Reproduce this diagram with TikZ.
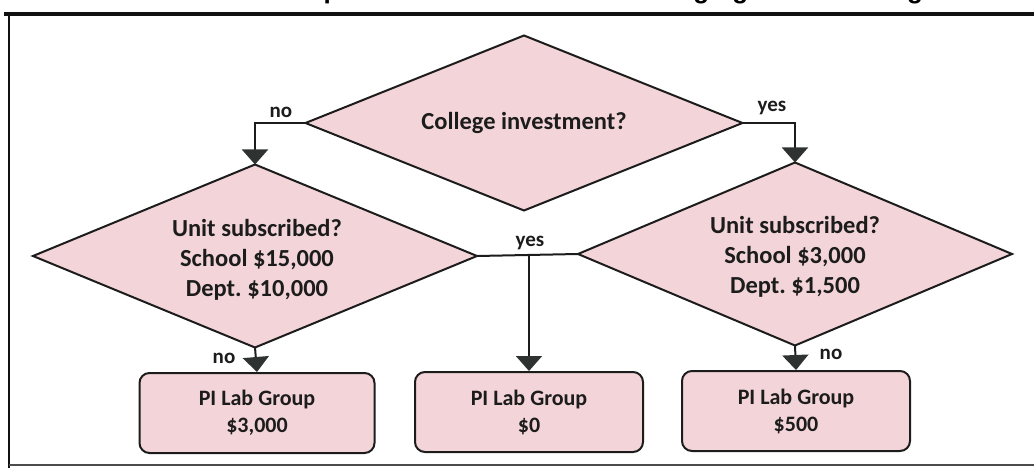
\documentclass[tikz,border=0pt]{standalone}
\usepackage{fontspec}
\setmainfont{Carlito}
\newfontfamily\titlefont{Liberation Sans}
\usetikzlibrary{shapes.geometric,arrows.meta}
\definecolor{pinkfill}{HTML}{F3D5D9}
\definecolor{inkcol}{HTML}{1C1C1C}
\definecolor{tipcol}{HTML}{2E3230}
\definecolor{framecol}{HTML}{111111}
\frenchspacing
\begin{document}
\begin{tikzpicture}[x=1pt,y=-1pt,
  decision/.style={diamond, draw=inkcol, line width=2pt, fill=pinkfill,
    inner sep=0pt, outer sep=0pt},
  question/.style={align=center, text=inkcol, inner sep=0pt,
    font=\bfseries\fontsize{24.5}{30}\selectfont},
  outcome/.style={rectangle, rounded corners=10pt, draw=inkcol, line width=2pt,
    fill=pinkfill, minimum height=80pt, align=center, text=inkcol,
    font=\bfseries\fontsize{22}{27}\selectfont},
  wire/.style={draw=inkcol, line width=2pt},
  flow/.style={wire, -{Triangle[width=26pt,length=15pt,fill=tipcol,color=tipcol]}},
  answer/.style={text=inkcol, inner sep=0pt, font=\bfseries\fontsize{21}{24}\selectfont}]

\useasboundingbox (0,0) rectangle (1034,468);

% title, running off the top edge
\begin{scope}
  \clip (0,0) rectangle (1034,468);
  \node[anchor=base, inner sep=0pt, font=\titlefont\bfseries\fontsize{26}{26}\selectfont]
    (title) at (533,-1) {C.SLR Subscription Model for Access to Imaging and Modeling};
\end{scope}

% frame
\draw[framecol, line width=4pt] (4,14) -- (1040,14);
\draw[framecol, line width=2.5pt] (9,14) -- (9,470);
\draw[black!70, line width=2pt] (9,465) -- (1040,465);

% decisions
\node[decision, minimum width=437pt, minimum height=175pt] (college) at (524,123) {};
\node[question] (collegeText) at (college.center) {College investment?};
\node[decision, minimum width=444pt, minimum height=183pt] (unitL) at (255,256) {};
\node[question] (unitLText) at (257,260) {Unit subscribed?\\School \$15,000\\Dept. \$10,000};
\node[decision, minimum width=434pt, minimum height=183pt] (unitR) at (795,254) {};
\node[question] (unitRText) at (795,257) {Unit subscribed?\\School \$3,000\\Dept. \$1,500};

% outcomes
\node[outcome, minimum width=235pt] (labA) at (257,413) {PI Lab Group\\\$3,000};
\node[outcome, minimum width=228pt] (labB) at (529,412) {PI Lab Group\\\$0};
\node[outcome, minimum width=228pt] (labC) at (796,411) {PI Lab Group\\\$500};

% connectors
\draw[flow] (college.west) -- (college.west -| unitL.north) -- (unitL.north);
\draw[flow] (college.east) -- (college.east -| unitR.north) -- (unitR.north);
\draw[wire] (unitL.east) -- (unitR.west);
\draw[flow] (unitL.east -| labB.north) -- (labB.north);
\draw[flow] (unitL.south) -- (labA.north);
\draw[flow] (unitR.south) -- (labC.north);

% branch labels
\node[answer] (noTop) at (281,112) {no};
\node[answer] (yesTop) at (772,108) {yes};
\node[answer] (yesMid) at (530,243) {yes};
\node[answer] (noL) at (224,358) {no};
\node[answer] (noR) at (831,354) {no};
\end{tikzpicture}
\end{document}
